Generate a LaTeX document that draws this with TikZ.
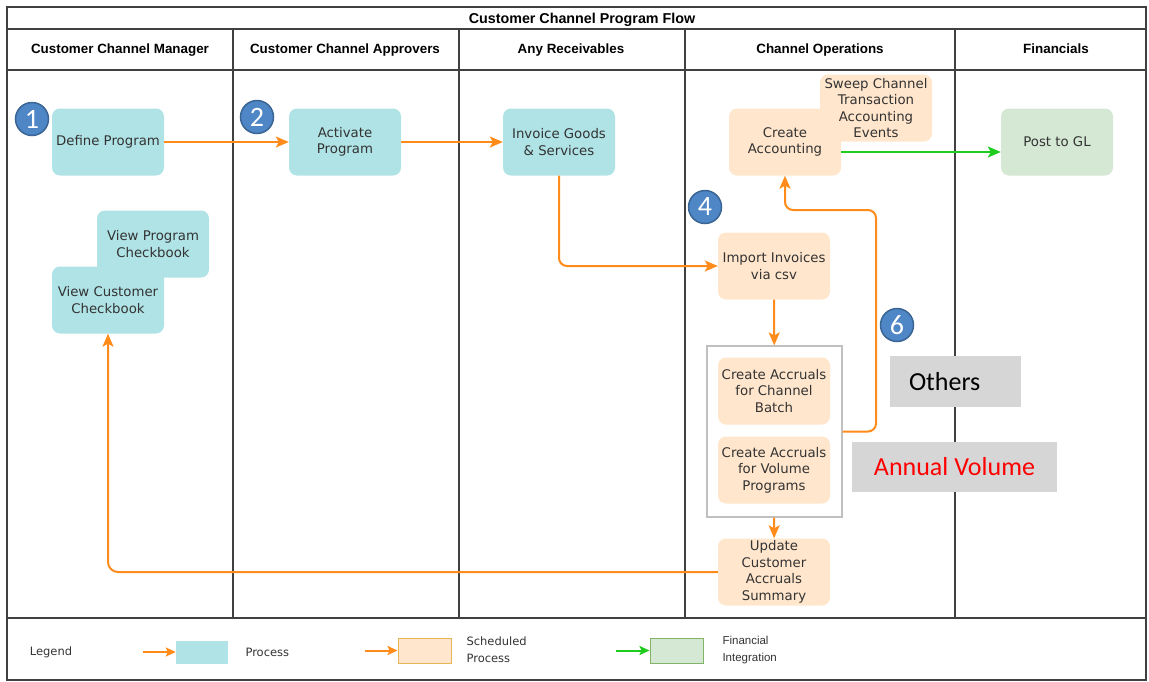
\documentclass[tikz,border=0pt]{standalone}
\usepackage{fontspec}
\setmainfont{DejaVu Sans}
\newfontfamily\hfont{Liberation Sans}
\newfontfamily\cfont{Carlito}
\usetikzlibrary{arrows.meta}
\definecolor{procfill}{HTML}{B0E3E6}
\definecolor{schedfill}{HTML}{FFE6CC}
\definecolor{schedline}{HTML}{E6B656}
\definecolor{finfill}{HTML}{D5E8D4}
\definecolor{finline}{HTML}{82B366}
\definecolor{orarrow}{HTML}{FF8C1A}
\definecolor{grarrow}{HTML}{1ECC1E}
\definecolor{numfill}{HTML}{4F86C6}
\definecolor{numdraw}{HTML}{3A6595}
\definecolor{txtgray}{HTML}{333333}
\definecolor{lanegray}{HTML}{404040}
\definecolor{graybox}{HTML}{D6D6D6}
\definecolor{contline}{HTML}{C0C0C0}
\tikzset{
  box/.style={rounded corners=8pt, minimum width=112pt, minimum height=67pt, align=center,
    text=txtgray, font=\fontsize{13.3}{16.5}\selectfont, inner sep=1pt},
  proc/.style={box, fill=procfill},
  sched/.style={box, fill=schedfill},
  fin/.style={box, fill=finfill},
  num/.style={circle, fill=numfill, draw=numdraw, line width=1.5pt, minimum size=33pt,
    inner sep=0pt, text=white, font=\cfont\fontsize{28}{28}\selectfont},
  tip/.style={-{Stealth[length=13pt,width=11pt,inset=3pt]}},
  smalltip/.style={-{Stealth[length=10pt,width=9pt,inset=2pt]}},
  oarr/.style={draw=orarrow, line width=2pt, tip},
  garr/.style={draw=grarrow, line width=2pt, tip},
  lane/.style={draw=lanegray, line width=1.2pt},
  hdr/.style={anchor=base, font=\hfont\bfseries\fontsize{13.4}{13.4}\selectfont},
  legtxt/.style={font=\fontsize{11.5}{17}\selectfont, text=txtgray, align=left},
  gbox/.style={fill=graybox, font=\cfont\fontsize{26}{26}\selectfont, inner sep=0pt},
}
\begin{document}
\begin{tikzpicture}[x=1pt,y=-1pt]
\useasboundingbox (0,0) rectangle (1149,681);
% frame and lanes
\draw[lane] (7,7) rectangle (1146,680);
\draw[lane] (7,29) -- (1146,29);
\draw[lane] (7,70) -- (1146,70);
\draw[lane] (7,618) -- (1146,618);
\foreach \x in {233,459,685,955} \draw[lane] (\x,29) -- (\x,618);
\node[hdr, font=\hfont\bfseries\fontsize{14.3}{14.3}\selectfont] (title) at (582,23.5) {Customer Channel Program Flow};
\node[hdr] (h1) at (120,53.5) {Customer Channel Manager};
\node[hdr] (h2) at (345,53.5) {Customer Channel Approvers};
\node[hdr] (h3) at (571,53.5) {Any Receivables};
\node[hdr] (h4) at (820,53.5) {Channel Operations};
\node[hdr] (h5) at (1056,53.5) {Financials};
% process nodes
\node[proc] (def) at (108,142) {Define Program};
\node[proc] (act) at (345,142) {Activate\\Program};
\node[proc] (inv) at (559,142) {Invoice Goods\\\& Services};
\node[sched] (acc) at (785,142) {Create\\Accounting};
\node[sched] (swp) at (876,108) {Sweep Channel\\Transaction\\Accounting\\Events};
\node[fin] (gl) at (1057,142) {Post to GL};
\node[proc] (vpc) at (153,244) {View Program\\Checkbook};
\node[proc] (vcc) at (108,300) {View Customer\\Checkbook};
\node[sched] (imp) at (774,266) {Import Invoices\\via csv};
\node[draw=contline, line width=1.2pt, fill=white, minimum width=135pt, minimum height=171pt, inner sep=0pt] (cont) at (774.5,431.5) {};
\node[sched] (acb) at (774,391) {Create Accruals\\for Channel\\Batch};
\node[sched] (avp) at (774,470) {Create Accruals\\for Volume\\Programs};
\node[sched] (upd) at (774,572) {Update\\Customer\\Accruals\\Summary};
% numbers
\node[num] (n1) at (32,119) {1};
\node[num] (n2) at (257,117) {2};
\node[num] (n4) at (705,207) {4};
\node[num] (n6) at (897,325) {6};
% gray boxes
\node[gbox, minimum width=131pt, minimum height=51pt, text width=93pt, inner xsep=19pt, align=left, text=black] (oth) at (955.5,381.5) {Others};
\node[gbox, minimum width=205pt, minimum height=50pt, text=red] (ann) at (954.5,467) {Annual Volume};
% connectors
\coordinate (c6) at (876,210);
\draw[oarr] (def) -- (act);
\draw[oarr] (act) -- (inv);
\draw[oarr, rounded corners=8pt] (inv.south) |- (imp.west);
\draw[oarr] (imp) -- (cont);
\draw[oarr] (cont) -- (upd);
\draw[oarr, rounded corners=8pt] (cont.east) -| (c6) -| (acc.south);
\draw[garr] ([yshift=-10pt]acc.east) -- ([yshift=-10pt]gl.west);
\draw[oarr, rounded corners=10pt] (upd.west) -| (vcc.south);
% legend
\node[legtxt] (leg) at (51,652) {Legend};
\node[fill=procfill, minimum width=52pt, minimum height=23pt, inner sep=0pt] (lp) at (202,652) {};
\coordinate (lpa) at (143,652);
\draw[oarr, smalltip] (lpa) -- (lp);
\node[legtxt, anchor=west] (lpt) at (242,652) {Process};
\node[fill=schedfill, draw=schedline, line width=1pt, minimum width=53pt, minimum height=25pt, inner sep=0pt] (ls) at (424.5,650.5) {};
\coordinate (lsa) at (365,650.5);
\draw[oarr, smalltip] (lsa) -- (ls);
\node[legtxt, anchor=west] (lst) at (463,650) {Scheduled\\Process};
\node[fill=finfill, draw=finline, line width=1pt, minimum width=53pt, minimum height=25pt, inner sep=0pt] (lf) at (676.5,650.5) {};
\coordinate (lfa) at (616,650.5);
\draw[garr, smalltip] (lfa) -- (lf);
\node[legtxt, anchor=west, font=\hfont\fontsize{11.5}{17}\selectfont] (lft) at (719,650) {Financial\\Integration};
\end{tikzpicture}
\end{document}
